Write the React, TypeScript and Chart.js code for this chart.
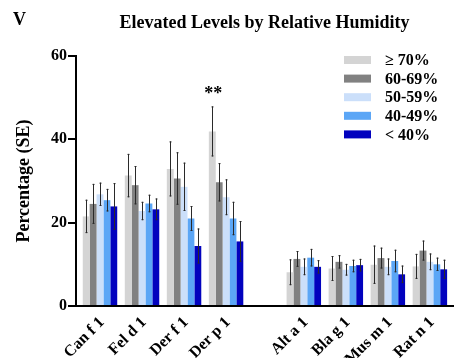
import React, { useEffect, useRef } from "react";
import { Chart, registerables } from "chart.js";

Chart.register(...registerables);

const categories = ["Can f 1", "Fel d 1", "Der f 1", "Der p 1", "Alt a 1", "Bla g 1", "Mus m 1", "Rat n 1"];
const positions = [0, 1, 2, 3, 4.85, 5.85, 6.85, 7.85];
const seriesLabels = ["≥ 70%", "60-69%", "50-59%", "40-49%", "< 40%"];
const seriesColors = ["#d4d4d4", "#818181", "#cbdffa", "#5ba6f6", "#0202be"];

const rh70 = [21.5, 31.3, 32.9, 41.9, 8.1, 9.0, 9.9, 9.5];
const se70 = [4.0, 5.2, 6.6, 6.0, 3.1, 3.0, 4.6, 3.0];
const rh60 = [24.5, 29.0, 30.6, 29.7, 11.3, 10.6, 11.5, 13.3];
const se60 = [4.8, 4.6, 6.3, 4.6, 1.9, 1.6, 2.5, 2.4];
const rh50 = [26.8, 22.8, 28.6, 26.1, 9.4, 8.7, 9.4, 10.6];
const se50 = [2.8, 2.2, 5.8, 4.3, 2.0, 1.4, 2.0, 2.0];
const rh40 = [25.4, 24.6, 21.0, 21.0, 11.6, 9.6, 10.8, 10.0];
const se40 = [2.7, 2.1, 3.0, 4.0, 2.1, 1.5, 2.7, 1.6];
const rhLow = [23.9, 23.2, 14.4, 15.5, 9.4, 9.8, 7.6, 8.8];
const seLow = [5.6, 2.6, 4.2, 4.9, 1.6, 1.5, 2.1, 2.3];

const yTicks = [0, 20, 40, 60];
const titleText = "Elevated Levels by Relative Humidity";
const panelLetter = "V";
const yTitle = "Percentage (SE)";
const significance = { series: 0, category: 3, text: "**" };

const seriesValues = [rh70, rh60, rh50, rh40, rhLow];
const seriesErrors = [se70, se60, se50, se40, seLow];

const FONT = "'Liberation Serif', 'Times New Roman', serif";

const extrasPlugin = {
  id: "extras",
  afterDatasetsDraw(chart: any) {
    const ctx = chart.ctx;
    const yScale = chart.scales.y;
    ctx.save();
    ctx.strokeStyle = "#2a2a2a";
    ctx.lineWidth = 1;
    chart.data.datasets.forEach((ds: any, di: number) => {
      const meta = chart.getDatasetMeta(di);
      meta.data.forEach((el: any, i: number) => {
        const v = seriesValues[di][i];
        const e = seriesErrors[di][i];
        const x = Math.round(el.x) + 0.5;
        const yTop = yScale.getPixelForValue(v + e);
        const yBot = yScale.getPixelForValue(v - e);
        ctx.beginPath();
        ctx.moveTo(x, yTop);
        ctx.lineTo(x, yBot);
        ctx.stroke();
        ctx.beginPath();
        ctx.moveTo(x - 1, yTop + 0.5);
        ctx.lineTo(x + 1, yTop + 0.5);
        ctx.moveTo(x - 1, yBot - 0.5);
        ctx.lineTo(x + 1, yBot - 0.5);
        ctx.stroke();
      });
    });
    {
      const el = chart.getDatasetMeta(significance.series).data[significance.category];
      const v = seriesValues[significance.series][significance.category];
      const e = seriesErrors[significance.series][significance.category];
      const yTop = yScale.getPixelForValue(v + e);
      ctx.fillStyle = "#000";
      ctx.font = `bold 18px ${FONT}`;
      ctx.textAlign = "center";
      ctx.textBaseline = "alphabetic";
      ctx.fillText(significance.text, el.x + 1, yTop - 7);
    }
    ctx.restore();
  },
  afterDraw(chart: any) {
    const ctx = chart.ctx;
    const area = chart.chartArea;
    const xScale = chart.scales.x;
    ctx.save();
    ctx.fillStyle = "#000";
    // x category labels, rotated 45 degrees
    ctx.font = `bold 16px ${FONT}`;
    ctx.textAlign = "right";
    ctx.textBaseline = "middle";
    categories.forEach((lab, i) => {
      const px = xScale.getPixelForValue(positions[i]);
      ctx.save();
      ctx.translate(px + 2, area.bottom + 14);
      ctx.rotate(-Math.PI / 4);
      ctx.fillText(lab, 0, 0);
      ctx.restore();
    });
    // title
    ctx.font = `bold 18px ${FONT}`;
    ctx.textAlign = "center";
    ctx.textBaseline = "alphabetic";
    ctx.fillText(titleText, (area.left + area.right) / 2, 28);
    ctx.textAlign = "left";
    ctx.fillText(panelLetter, 13, 25);
    // y title
    ctx.save();
    ctx.translate(24, (area.top + area.bottom) / 2);
    ctx.rotate(-Math.PI / 2);
    ctx.textAlign = "center";
    ctx.textBaseline = "middle";
    ctx.font = `bold 18px ${FONT}`;
    ctx.fillText(yTitle, 0, 0);
    ctx.restore();
    // legend
    const boxLeft = area.right - 109;
    const rowTop = 60;
    const rowGap = 18.6;
    ctx.font = `bold 16px ${FONT}`;
    ctx.textAlign = "left";
    ctx.textBaseline = "middle";
    seriesLabels.forEach((lab, i) => {
      const cy = rowTop + i * rowGap;
      ctx.fillStyle = seriesColors[i];
      ctx.fillRect(boxLeft, cy - 4, 27, 8);
      ctx.fillStyle = "#000";
      ctx.fillText(lab, boxLeft + 41, cy + 1);
    });
    ctx.restore();
  },
};

export default function App() {
  const ref = useRef<HTMLCanvasElement | null>(null);

  useEffect(() => {
    if (!ref.current) return;
    const datasets = seriesValues.map((vals, si) => ({
      label: seriesLabels[si],
      data: positions.map((x, i) => ({ x, y: vals[i] })),
      backgroundColor: seriesColors[si],
      borderWidth: 0,
      categoryPercentage: 0.82,
      barPercentage: 1.0,
    }));
    const chart = new Chart(ref.current, {
      type: "bar",
      data: { datasets },
      plugins: [extrasPlugin],
      options: {
        responsive: false,
        animation: false,
        devicePixelRatio: 1,
        layout: { padding: { top: 56, right: 2, left: 0, bottom: 0 } },
        plugins: {
          legend: { display: false },
          title: { display: false },
          tooltip: { enabled: false },
        },
        scales: {
          x: {
            type: "linear",
            min: -0.571,
            max: 8.4,
            offset: false,
            afterBuildTicks: (s: any) => {
              s.ticks = positions.map((v) => ({ value: v }));
            },
            afterFit: (s: any) => {
              s.height = 52;
            },
            ticks: { display: false },
            grid: { display: false, drawTicks: false },
            border: { display: true, color: "#000", width: 2 },
          },
          y: {
            min: 0,
            max: 60,
            afterBuildTicks: (s: any) => {
              s.ticks = yTicks.map((v) => ({ value: v }));
            },
            afterFit: (s: any) => {
              s.width = 76;
            },
            ticks: {
              color: "#000",
              padding: 1,
              font: { family: FONT, weight: "bold", size: 16 },
            },
            grid: { display: true, drawOnChartArea: false, color: "#000", lineWidth: 2, tickLength: 8 },
            border: { display: true, color: "#000", width: 2 },
          },
        },
      } as any,
    });
    return () => chart.destroy();
  }, []);

  return (
    <div style={{ position: "fixed", left: 0, top: 0, width: 455, height: 358, background: "#fff" }}>
      <canvas ref={ref} width={455} height={358} style={{ width: 455, height: 358, display: "block" }} />
    </div>
  );
}
